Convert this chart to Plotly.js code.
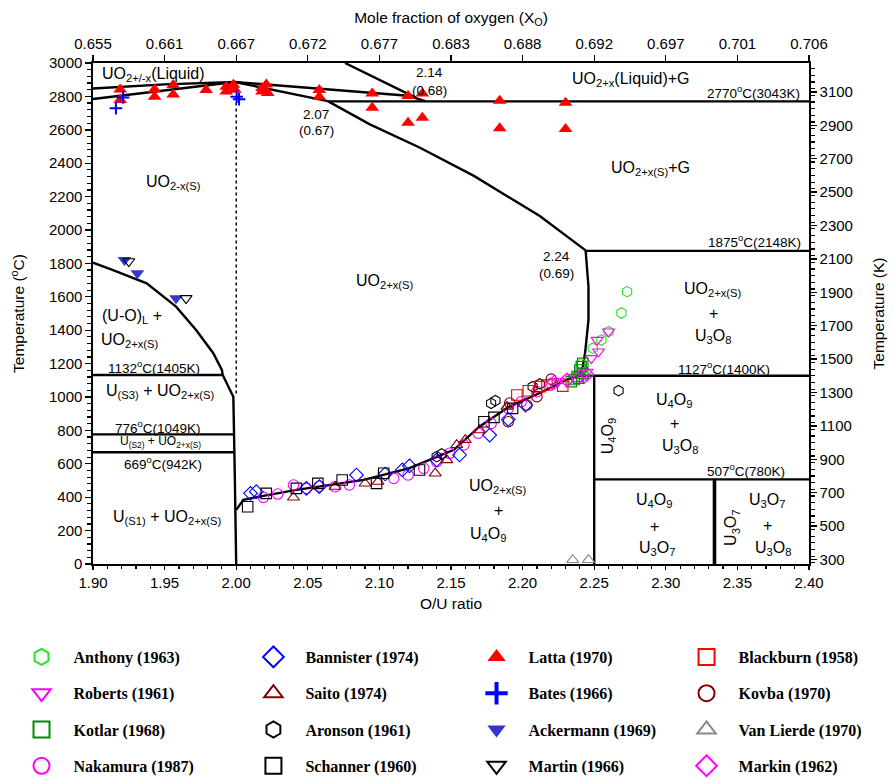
<!DOCTYPE html>
<html>
<head>
<meta charset="utf-8">
<script src="https://cdn.plot.ly/plotly-3.0.1.min.js"></script>
<style>
  html, body { margin: 0; padding: 0; background: #fff; }
  #chart { width: 894px; height: 779px; }
</style>
</head>
<body>
<div id="chart"></div>
<script>
// ---------- axis ticks ----------
const topTickValues = [1.90, 1.95, 2.00, 2.05, 2.10, 2.15, 2.20, 2.25, 2.30, 2.35, 2.40];
const topTickLabels = ['0.655', '0.661', '0.667', '0.672', '0.677', '0.683', '0.688', '0.692', '0.697', '0.701', '0.706'];

// ---------- phase boundaries (O/U ratio, °C) ----------
const liquidusUpperOU = [1.90, 1.95, 1.999, 2.055, 2.12, 2.132];
const liquidusUpperT  = [2847, 2872, 2886, 2848, 2804, 2772];
const solidusLowerOU  = [1.90, 1.95, 1.999, 2.064];
const solidusLowerT   = [2784, 2834, 2886, 2772];
const gasLineOU = [2.076, 2.126];
const gasLineT  = [3000, 2790];
const solidusHyperOU = [2.064, 2.093, 2.128, 2.166, 2.189, 2.212, 2.244];
const solidusHyperT  = [2772, 2634, 2494, 2324, 2204, 2084, 1878];
const phaseEdgeOU = [2.244, 2.245, 2.246, 2.246, 2.245, 2.2436, 2.242, 2.240];
const phaseEdgeT  = [1878, 1760, 1660, 1461, 1361, 1262, 1181, 1130];
const u4o9EdgeOU = [2.000, 2.005, 2.019, 2.042, 2.066, 2.089, 2.100, 2.121, 2.152, 2.170, 2.191, 2.212, 2.231, 2.240];
const u4o9EdgeT  = [324, 384, 408, 444, 474, 504, 528, 574, 684, 824, 944, 1024, 1104, 1130];
const metalLiquidusOU = [1.90, 1.914, 1.9375, 1.958, 1.972, 1.984, 1.990, 1.9906];
const metalLiquidusT  = [1804, 1760, 1681, 1541, 1401, 1262, 1162, 1132];
const hypoEdgeOU = [1.9906, 1.998, 1.999, 2.000];
const hypoEdgeT  = [1132, 1002, 540, 0];
const stoichOU = [2.000, 2.000];
const stoichT  = [2800, 1004];

const isotherms = [
  { ou: [2.064, 2.40], t: 2770 },
  { ou: [2.244, 2.40], t: 1875 },
  { ou: [2.240, 2.40], t: 1127 },
  { ou: [2.250, 2.40], t: 507 },
  { ou: [1.90, 1.9906], t: 1132 },
  { ou: [1.90, 1.999], t: 776 },
  { ou: [1.90, 1.999], t: 669 }
];
const u4o9BoundaryOU = 2.25;
const u3o7BoundaryOU = 2.334;

// ---------- measurements ----------
const anthonyOU = [2.241, 2.249, 2.255, 2.260, 2.269, 2.273];
const anthonyT  = [1200, 1292, 1341, 1391, 1503, 1631];
const robertsOU = [2.225, 2.243, 2.245, 2.248, 2.253, 2.252, 2.260];
const robertsT  = [1095, 1112, 1150, 1232, 1272, 1341, 1391];
const kotlarOU = [2.234, 2.236, 2.238, 2.239, 2.240, 2.241, 2.242, 2.242];
const kotlarT  = [1092, 1105, 1122, 1112, 1162, 1182, 1202, 1142];
const nakamuraOU = [2.019, 2.029, 2.040, 2.049, 2.058, 2.069, 2.079, 2.110, 2.120, 2.131, 2.140, 2.149, 2.159, 2.169, 2.178, 2.190, 2.199, 2.210, 2.220, 2.231];
const nakamuraT  = [399, 419, 473, 453, 466, 463, 473, 513, 533, 573, 613, 663, 713, 783, 842, 932, 972, 1032, 1082, 1102];
const bannisterOU = [2.010, 2.014, 2.049, 2.058, 2.084, 2.104, 2.116, 2.121, 2.140, 2.156, 2.177, 2.190, 2.202];
const bannisterT  = [423, 433, 453, 463, 533, 539, 563, 587, 623, 653, 772, 866, 952];
const saitoOU = [2.040, 2.069, 2.090, 2.099, 2.139, 2.147, 2.154, 2.160, 2.170, 2.189];
const saitoT  = [399, 463, 483, 493, 543, 623, 713, 743, 802, 942];
const aronsonOU = [2.140, 2.1435, 2.178, 2.181, 2.207, 2.212, 2.267];
const aronsonT  = [643, 659, 962, 978, 1062, 1078, 1038];
const schannerOU = [2.008, 2.021, 2.042, 2.057, 2.074, 2.098, 2.103, 2.128, 2.173, 2.180, 2.193];
const schannerT  = [343, 423, 453, 483, 503, 483, 543, 563, 852, 878, 932];
const lattaOU = [1.919, 1.919, 1.943, 1.943, 1.956, 1.956, 1.979, 1.993, 1.998, 1.993, 1.999, 2.018, 2.021, 2.022, 2.018, 2.058, 2.058, 2.095, 2.095, 2.120, 2.130, 2.120, 2.130, 2.184, 2.184, 2.230, 2.230];
const lattaT  = [2842, 2779, 2842, 2798, 2868, 2812, 2838, 2858, 2870, 2830, 2840, 2850, 2872, 2820, 2830, 2838, 2798, 2818, 2732, 2802, 2818, 2642, 2672, 2774, 2609, 2762, 2605];
const batesOU = [1.916, 1.921, 2.0003, 2.002];
const batesT  = [2729, 2794, 2798, 2783];
const ackermannOU = [1.922, 1.931, 1.958];
const ackermannT  = [1820, 1741, 1591];
const martinOU = [1.925, 1.965];
const martinT  = [1812, 1591];
const blackburnOU = [2.196, 2.204, 2.212, 2.217, 2.228];
const blackburnT  = [1012, 1037, 1062, 1072, 1065];
const kovbaOU = [2.190, 2.191, 2.203, 2.210, 2.220];
const kovbaT  = [852, 964, 952, 1002, 1107];
const vanLierdeOU = [2.235, 2.246];
const vanLierdeT  = [25, 25];
const markinOU = [2.222, 2.231, 2.240, 2.245];
const markinT  = [1088, 1102, 1126, 1135];

// legend column layout: each column is its own vertical legend
const series = [
  { name: 'Anthony (1963)',    ou: anthonyOU,   t: anthonyT,   symbol: 'hexagon-open',       color: '#22e622', col: 0 },
  { name: 'Roberts (1961)',    ou: robertsOU,   t: robertsT,   symbol: 'triangle-down-open', color: '#ff00ff', col: 0 },
  { name: 'Kotlar (1968)',     ou: kotlarOU,    t: kotlarT,    symbol: 'square-open',        color: '#008a00', col: 0 },
  { name: 'Nakamura (1987)',   ou: nakamuraOU,  t: nakamuraT,  symbol: 'circle-open',        color: '#ff00ff', col: 0 },
  { name: 'Bannister (1974)',  ou: bannisterOU, t: bannisterT, symbol: 'diamond-open',       color: '#0000ff', col: 1 },
  { name: 'Saito (1974)',      ou: saitoOU,     t: saitoT,     symbol: 'triangle-up-open',   color: '#800000', col: 1 },
  { name: 'Aronson (1961)',    ou: aronsonOU,   t: aronsonT,   symbol: 'hexagon-open',       color: '#000000', col: 1 },
  { name: 'Schanner (1960)',   ou: schannerOU,  t: schannerT,  symbol: 'square-open',        color: '#000000', col: 1 },
  { name: 'Latta (1970)',      ou: lattaOU,     t: lattaT,     symbol: 'triangle-up',        color: '#ff0000', col: 2 },
  { name: 'Bates (1966)',      ou: batesOU,     t: batesT,     symbol: 'cross-thin-open',    color: '#0000ff', col: 2 },
  { name: 'Ackermann (1969)',  ou: ackermannOU, t: ackermannT, symbol: 'triangle-down',      color: '#3535cc', col: 2 },
  { name: 'Martin (1966)',     ou: martinOU,    t: martinT,    symbol: 'triangle-down-open', color: '#000000', col: 2 },
  { name: 'Blackburn (1958)',  ou: blackburnOU, t: blackburnT, symbol: 'square-open',        color: '#ff0000', col: 3 },
  { name: 'Kovba (1970)',      ou: kovbaOU,     t: kovbaT,     symbol: 'circle-open',        color: '#800000', col: 3 },
  { name: 'Van Lierde (1970)', ou: vanLierdeOU, t: vanLierdeT, symbol: 'triangle-up-open',   color: '#888888', col: 3 },
  { name: 'Markin (1962)',     ou: markinOU,    t: markinT,    symbol: 'diamond-open',       color: '#ff00ff', col: 3 }
];
const legendIds = ['legend', 'legend2', 'legend3', 'legend4'];
const legendX = [-0.1166, 0.2073, 0.5189, 0.8122];

const traces = [];
const boundaryLine = { color: '#000', width: 2.4 };
function addLine(x, y, line) {
  traces.push({ type: 'scatter', mode: 'lines', x: x, y: y, line: line || boundaryLine,
                showlegend: false, hoverinfo: 'skip' });
}
addLine(liquidusUpperOU, liquidusUpperT);
addLine(solidusLowerOU, solidusLowerT);
addLine(gasLineOU, gasLineT);
addLine(solidusHyperOU, solidusHyperT);
addLine(phaseEdgeOU, phaseEdgeT);
addLine(u4o9EdgeOU, u4o9EdgeT);
addLine(metalLiquidusOU, metalLiquidusT);
addLine(hypoEdgeOU, hypoEdgeT);
addLine(stoichOU, stoichT, { color: '#000', width: 1.5, dash: 'dot' });
isotherms.forEach(iso => addLine(iso.ou, [iso.t, iso.t]));
const lowIsotherm = isotherms[3].t;
const highIsotherm = isotherms[2].t;
addLine([u4o9BoundaryOU, u4o9BoundaryOU], [highIsotherm, 0]);
addLine([u3o7BoundaryOU, u3o7BoundaryOU], [lowIsotherm, 0], { color: '#000', width: 3.6 });

// measured points
series.forEach((s, i) => {
  const filled = s.symbol.indexOf('open') < 0;
  const isCross = s.symbol.indexOf('cross') === 0;
  traces.push({
    type: 'scatter', mode: 'markers', x: s.ou, y: s.t, name: s.name,
    legendgroup: 'g' + i, showlegend: false,
    marker: { symbol: s.symbol, color: s.color, size: isCross ? 9 : (filled ? 12 : 10.5),
              line: { color: s.color, width: isCross ? 2 : (filled ? 0 : 1.1) } }
  });
});
// legend entries
series.forEach((s, i) => {
  const filled = s.symbol.indexOf('open') < 0;
  const isCross = s.symbol.indexOf('cross') === 0;
  traces.push({
    type: 'scatter', mode: 'markers', x: [null], y: [null], name: s.name,
    legendgroup: 'g' + i, legend: legendIds[s.col],
    marker: { symbol: s.symbol, color: s.color, size: 20,
              line: { color: s.color, width: isCross ? 4 : (filled ? 0 : 2) } }
  });
});
// carrier for the top and right axes
traces.push({ type: 'scatter', mode: 'markers', x: [null], y: [null], xaxis: 'x2', yaxis: 'y2',
              showlegend: false, hoverinfo: 'skip' });

// region labels
const F = 'Liberation Sans, Arial, sans-serif';
function lab(x, y, text, size, extra) {
  return Object.assign({ x: x, y: y, xref: 'x', yref: 'y', text: text, showarrow: false,
                         font: { family: F, size: size || 16, color: '#000' } }, extra || {});
}
const deg = '<sup>o</sup>';
const annotations = [
  lab(1.942, 2934, 'UO<sub>2+/-x</sub>(Liquid)', 16),
  lab(2.2757, 2904, 'UO<sub>2+x</sub>(Liquid)+G', 16),
  lab(2.395, 2828, '2770' + deg + 'C(3043K)', 13.5, { xanchor: 'right' }),
  lab(2.135, 2946, '2.14', 13.5),
  lab(2.135, 2838, '(0.68)', 13.5),
  lab(2.056, 2689, '2.07', 13.5),
  lab(2.056, 2593, '(0.67)', 13.5),
  lab(1.956, 2287, 'UO<sub>2-x(S)</sub>', 16),
  lab(2.289, 2371, 'UO<sub>2+x(S)</sub>+G', 16),
  lab(2.396, 1934, '1875' + deg + 'C(2148K)', 13.5, { xanchor: 'right' }),
  lab(2.224, 1840, '2.24', 13.5),
  lab(2.224, 1741, '(0.69)', 13.5),
  lab(2.104, 1689, 'UO<sub>2+x(S)</sub>', 16),
  lab(2.333, 1641, 'UO<sub>2+x(S)</sub>', 16),
  lab(2.333, 1503, '+', 16),
  lab(2.333, 1365, 'U<sub>3</sub>O<sub>8</sub>', 16),
  lab(1.927, 1481, '(U-O)<sub>L</sub> +', 16),
  lab(1.9255, 1341, 'UO<sub>2+x(S)</sub>', 16),
  lab(1.9426, 1182, '1132' + deg + 'C(1405K)', 13.5),
  lab(1.9468, 1032, 'U<sub>(S3)</sub> + UO<sub>2+x(S)</sub>', 16),
  lab(2.3403, 1172, '1127' + deg + 'C(1400K)', 13.5),
  lab(1.9455, 818, '776' + deg + 'C(1049K)', 13.5),
  lab(1.947, 732, 'U<sub>(S2)</sub> + UO<sub>2+x(S)</sub>', 12),
  lab(1.949, 605, '669' + deg + 'C(942K)', 13.5),
  lab(1.952, 281, 'U<sub>(S1)</sub> + UO<sub>2+x(S)</sub>', 16),
  lab(2.183, 467, 'UO<sub>2+x(S)</sub>', 16),
  lab(2.183, 323, '+', 16),
  lab(2.176, 174, 'U<sub>4</sub>O<sub>9</sub>', 16),
  lab(2.260, 762, 'U<sub>4</sub>O<sub>9</sub>', 16, { textangle: -90 }),
  lab(2.306, 982, 'U<sub>4</sub>O<sub>9</sub>', 16),
  lab(2.306, 842, '+', 16),
  lab(2.310, 702, 'U<sub>3</sub>O<sub>8</sub>', 16),
  lab(2.356, 563, '507' + deg + 'C(780K)', 13.5),
  lab(2.292, 383, 'U<sub>4</sub>O<sub>9</sub>', 16),
  lab(2.292, 223, '+', 16),
  lab(2.294, 94, 'U<sub>3</sub>O<sub>7</sub>', 16),
  lab(2.346, 214, 'U<sub>3</sub>O<sub>7</sub>', 16, { textangle: -90 }),
  lab(2.371, 383, 'U<sub>3</sub>O<sub>7</sub>', 16),
  lab(2.371, 229, '+', 16),
  lab(2.375, 94, 'U<sub>3</sub>O<sub>8</sub>', 16)
];

const tickFont = { family: F, size: 15, color: '#000' };
const titleFont = { family: F, size: 15.5, color: '#000' };
const axisCommon = {
  showgrid: false, zeroline: false, showline: true, linecolor: '#000', linewidth: 1.6,
  ticks: 'outside', ticklen: 6, tickwidth: 1.4, tickcolor: '#000', tickfont: tickFont,
  automargin: false
};

const layout = {
  width: 894, height: 779,
  margin: { l: 93, r: 85, t: 63, b: 215, autoexpand: false },
  paper_bgcolor: '#fff', plot_bgcolor: '#fff',
  xaxis: Object.assign({}, axisCommon, {
    range: [1.90, 2.40], tick0: 1.90, dtick: 0.05, tickformat: '.2f', ticklen: 4,
    minor: { dtick: 0.01, ticklen: 3, tickwidth: 1.2, tickcolor: '#000', ticks: 'outside' },
    title: { text: 'O/U ratio', font: titleFont, standoff: 8 }
  }),
  yaxis: Object.assign({}, axisCommon, {
    range: [0, 3000], tick0: 0, dtick: 200,
    minor: { dtick: 40, ticklen: 4, tickwidth: 1.2, tickcolor: '#000', ticks: 'outside' },
    title: { text: 'Temperature (' + deg + 'C)', font: titleFont, standoff: 20 }
  }),
  xaxis2: Object.assign({}, axisCommon, {
    overlaying: 'x', side: 'top', anchor: 'y', range: [1.90, 2.40],
    tickmode: 'array', tickvals: topTickValues, ticktext: topTickLabels,
    title: { text: 'Mole fraction of oxygen (X<sub>O</sub>)', font: titleFont, standoff: 8 }
  }),
  yaxis2: Object.assign({}, axisCommon, {
    overlaying: 'y', side: 'right', anchor: 'x', range: [273.15, 3273.15], tick0: 300, dtick: 200,
    minor: { dtick: 40, ticklen: 4, tickwidth: 1.2, tickcolor: '#000', ticks: 'outside' },
    title: { text: 'Temperature (K)', font: titleFont, standoff: 21 }
  }),
  annotations: annotations,
  showlegend: true
};
const legendFont = { family: 'Liberation Serif, Times New Roman, serif', size: 16, color: '#000', weight: 'bold' };
legendIds.forEach((id, c) => {
  layout[id] = {
    x: legendX[c], y: -0.1517, xanchor: 'left', yanchor: 'top', orientation: 'v',
    xref: 'paper', yref: 'paper', bgcolor: 'rgba(0,0,0,0)', borderwidth: 0,
    itemwidth: 54, tracegroupgap: 12.5, font: legendFont, itemclick: false, itemdoubleclick: false
  };
});

Plotly.newPlot('chart', traces, layout, { displayModeBar: false, staticPlot: true });
</script>
</body>
</html>
